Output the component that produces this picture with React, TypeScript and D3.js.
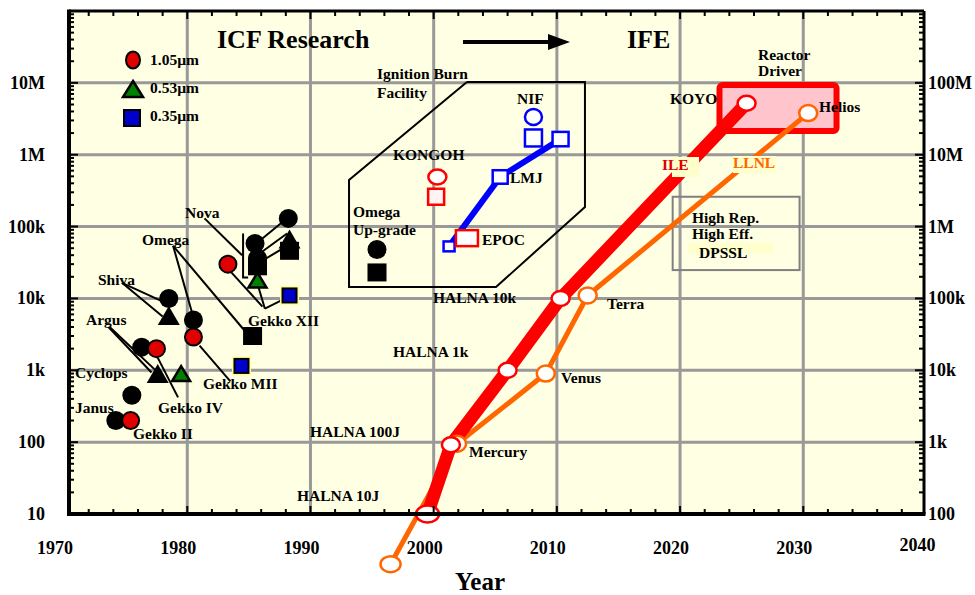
import React from 'react'
import * as d3 from 'd3'

/* page is 975 x 595, plot frame in pixels */
const width = 975
const height = 595
const frame = { left: 69, right: 924, top: 11, bottom: 514 }
const serif = '"Liberation Serif", "Times New Roman", serif'

/* axes */
const gridYears = [1980, 1990, 2000, 2010, 2020, 2030]
const yearLabels = [1970, 1980, 1990, 2000, 2010, 2020, 2030, 2040]
const decades = [10, 100, 1e3, 1e4, 1e5, 1e6, 1e7]
const leftLabels = ['10', '100', '1k', '10k', '100k', '1M', '10M']
const rightLabels = ['100', '1k', '10k', '100k', '1M', '10M', '100M']

/* ICF lasers: [year, output energy J] */
const blackCircles = [
    [1974.2, 200], [1975.5, 450], [1976.3, 2100], [1978.5, 10000], [1980.5, 5000],
    [1985.5, 58000], [1985.7, 36000], [1988.2, 130000], [1995.4, 48000],
]
const redCircles = [[1975.4, 200], [1977.5, 2000], [1980.5, 2900], [1983.3, 30000]]
const blackTriangles = [[1977.6, 900], [1978.5, 5800], [1988.3, 67000]]
const greenTriangles = [[1979.5, 900], [1985.7, 18000]]
const blackSquares = [[1985.3, 3000], [1985.7, 28000], [1988.3, 46000], [1995.4, 23000]]
const blueSquares = [[1984.4, 1150], [1988.3, 11000]]

/* ignition facilities */
const kongohCircle = [2000.3, 490000]
const kongohSquare = [2000.2, 260000]
const epoc = [2002.7, 69000]
const nifCircle = [2008.1, 3.35e6]
const nifSquare = [2008.1, 1.71e6]
const blueLine = [[2001.25, 53000], [2005.4, 490000], [2010.3, 1.65e6]]

/* IFE roadmaps */
const ileYears = [1999.5, 2001.4, 2006.0, 2010.3, 2025.4]
const ileEnergy = [10, 92, 1000, 10000, 5.2e6]
const llnlYears = [1996.5, 2001.9, 2009.1, 2012.5, 2030.4]
const llnlEnergy = [2, 95, 900, 11000, 3.8e6]

/* regions in data space */
const ignitionRegion = [
    [2002.7, 1.03e7], [2012.28, 1.03e7], [2012.28, 187000],
    [2005.06, 14400], [1993.13, 14400], [1993.13, 445000],
]
const reactorBox = [[2023.2, 9.3e6], [2032.7, 2.14e6]]
const dpsslBox = [[2019.4, 260000], [2029.7, 24800]]

/* leader lines from names to points */
const leaders = [
    [[1973.6, 4000], [1977.1, 930]],
    [[1973.7, 4000], [1977.8, 870]],
    [[1974.7, 16500], [1977.8, 9400]],
    [[1974.7, 16500], [1978.0, 5600]],
    [[1978.85, 54000], [1980.4, 6200]],
    [[1978.85, 54000], [1984.85, 3250]],
    [[1977.6, 1500], [1979.25, 420]],
    [[1981.0, 2200], [1983.5, 700]],
    [[1983.3, 26000], [1986.1, 7700]],
    [[1985.8, 14000], [1986.3, 7200]],
    [[1986.3, 7200], [1987.8, 9700]],
    [[1981.4, 130000], [1984.45, 40000]],
    [[1988.2, 135000], [1985.9, 64000]],
    [[1988.1, 80000], [1985.9, 42500]],
    [[1987.8, 50000], [1986.15, 34000]],
]
const novaBracket = [[1984.53, 80000], [1984.53, 19600], [1984.94, 19600]]

/* names (pixel anchors, baseline) */
const names = [
    { t: 'Nova', x: 185, y: 218 },
    { t: 'Omega', x: 142, y: 245 },
    { t: 'Shiva', x: 98, y: 285 },
    { t: 'Argus', x: 86, y: 325 },
    { t: 'Cyclops', x: 75, y: 378 },
    { t: 'Janus', x: 75, y: 413 },
    { t: 'Gekko II', x: 133, y: 439 },
    { t: 'Gekko IV', x: 158, y: 413 },
    { t: 'Gekko MII', x: 203, y: 389 },
    { t: 'Gekko XII', x: 248, y: 326 },
    { t: 'Ignition Burn', x: 377, y: 79 },
    { t: 'Facility', x: 377, y: 98 },
    { t: 'KONGOH', x: 393, y: 160 },
    { t: 'Omega', x: 353, y: 217 },
    { t: 'Up-grade', x: 353, y: 235 },
    { t: 'EPOC', x: 482, y: 245 },
    { t: 'LMJ', x: 510, y: 183 },
    { t: 'NIF', x: 517, y: 104 },
    { t: 'HALNA 10k', x: 433, y: 303 },
    { t: 'HALNA 1k', x: 393, y: 357 },
    { t: 'HALNA 100J', x: 310, y: 437 },
    { t: 'HALNA 10J', x: 297, y: 501 },
    { t: 'Mercury', x: 469, y: 457 },
    { t: 'Venus', x: 561, y: 383 },
    { t: 'Terra', x: 607, y: 309 },
    { t: 'KOYO', x: 670, y: 104 },
    { t: 'Helios', x: 819, y: 112 },
    { t: 'Reactor', x: 758, y: 60 },
    { t: 'Driver', x: 758, y: 76 },
    { t: 'High Rep.', x: 692, y: 223 },
    { t: 'High Eff.', x: 692, y: 239 },
    { t: 'DPSSL', x: 699, y: 258 },
]

const legendItems = ['1.05µm', '0.53µm', '0.35µm']

const x = d3.scaleLinear().domain([1970.4, 2039.8]).range([frame.left, frame.right])
const y = d3.scaleLog().domain([10, 1e8]).range([frame.bottom, frame.top])
const line = d3.line<number[]>().x((d) => x(d[0])).y((d) => y(d[1]))

const tri = (w: number, h: number) => `M0,${-h / 2}L${w / 2},${h / 2}L${-w / 2},${h / 2}Z`

export default function App() {
    const ile = d3.zip(ileYears, ileEnergy)
    const llnl = d3.zip(llnlYears, llnlEnergy)
    const minorY = decades.flatMap((d) => d3.range(2, 10).map((m) => d * m))
    const minorX = d3.range(1972, 2040, 2)

    return (
        <svg
            width={width}
            height={height}
            style={{ position: 'absolute', left: 0, top: 0, background: '#fff' }}
            fontFamily={serif}
            fontWeight="bold"
        >
            {/* plot background */}
            <rect
                x={frame.left}
                y={frame.top}
                width={frame.right - frame.left}
                height={frame.bottom - frame.top}
                fill="#FFFFE3"
            />
            {/* grid */}
            {gridYears.map((d) => (
                <line key={d} x1={x(d)} x2={x(d)} y1={frame.top} y2={frame.bottom} stroke="#999" strokeWidth={3} />
            ))}
            {decades.slice(1).map((d) => (
                <line key={d} x1={frame.left} x2={frame.right} y1={y(d)} y2={y(d)} stroke="#999" strokeWidth={3} />
            ))}

            {/* ignition burn facility region */}
            <path
                d={line(ignitionRegion.concat([ignitionRegion[0]]))}
                fill="none"
                stroke="#000"
                strokeWidth={2}
            />
            {/* high rep DPSSL box */}
            <rect
                x={x(dpsslBox[0][0])}
                y={y(dpsslBox[0][1])}
                width={x(dpsslBox[1][0]) - x(dpsslBox[0][0])}
                height={y(dpsslBox[1][1]) - y(dpsslBox[0][1])}
                fill="none"
                stroke="#808080"
                strokeWidth={2}
            />
            {/* reactor driver box */}
            <rect
                x={x(reactorBox[0][0])}
                y={y(reactorBox[0][1])}
                width={x(reactorBox[1][0]) - x(reactorBox[0][0])}
                height={y(reactorBox[1][1]) - y(reactorBox[0][1])}
                rx={3}
                fill="#FFC4CC"
                stroke="#FF0000"
                strokeWidth={6}
            />

            {/* leader lines */}
            {leaders.map((d, i) => (
                <path key={i} d={line(d)} stroke="#000" strokeWidth={2} fill="none" />
            ))}
            <path d={line(novaBracket)} stroke="#000" strokeWidth={2} fill="none" />

            {/* ICF lasers */}
            {blackCircles.map((d, i) => (
                <circle key={i} cx={x(d[0])} cy={y(d[1])} r={9.5} fill="#000" />
            ))}
            {blackSquares.map((d, i) => (
                <rect key={i} x={x(d[0]) - 9.5} y={y(d[1]) - 9} width={19} height={18} fill="#000" />
            ))}
            {blackTriangles.map((d, i) => (
                <path key={i} d={tri(22, 19)} transform={`translate(${x(d[0])},${y(d[1])})`} fill="#000" />
            ))}
            {redCircles.map((d, i) => (
                <circle key={i} cx={x(d[0])} cy={y(d[1])} r={8.5} fill="#E00000" stroke="#000" strokeWidth={2} />
            ))}
            {greenTriangles.map((d, i) => (
                <path
                    key={i}
                    d={tri(18, 15)}
                    transform={`translate(${x(d[0])},${y(d[1])})`}
                    fill="#008000"
                    stroke="#000"
                    strokeWidth={2.5}
                />
            ))}
            {blueSquares.map((d, i) => (
                <g key={i} transform={`translate(${x(d[0])},${y(d[1])})`}>
                    <rect x={-9.5} y={-9.5} width={19} height={19} fill="#FFFF99" />
                    <rect x={-7} y={-7} width={14} height={14} fill="#0000CC" stroke="#000" strokeWidth={2} />
                </g>
            ))}

            {/* ignition facilities */}
            <path d={line(blueLine)} stroke="#0000FF" strokeWidth={6} fill="none" />
            {blueLine.map((d, i) => {
                const s = [11, 15, 16][i]
                return (
                    <rect
                        key={i}
                        x={x(d[0]) - s / 2}
                        y={y(d[1]) - (s * 0.9) / 2}
                        width={s}
                        height={s * 0.9}
                        fill="#fff"
                        stroke="#0000FF"
                        strokeWidth={2.5}
                    />
                )
            })}
            <rect x={x(nifSquare[0]) - 8.5} y={y(nifSquare[1]) - 8.5} width={17} height={17} fill="#fff" stroke="#0000FF" strokeWidth={2.5} />
            <ellipse cx={x(nifCircle[0])} cy={y(nifCircle[1])} rx={8.5} ry={8} fill="#fff" stroke="#0000FF" strokeWidth={2.5} />
            <ellipse cx={x(kongohCircle[0])} cy={y(kongohCircle[1])} rx={9} ry={7.5} fill="#fff" stroke="#FF0000" strokeWidth={2.5} />
            <rect x={x(kongohSquare[0]) - 8} y={y(kongohSquare[1]) - 8} width={16} height={16} fill="#FFF4F4" stroke="#FF0000" strokeWidth={2.5} />
            <rect x={x(epoc[0]) - 11} y={y(epoc[1]) - 8} width={22} height={16} fill="#fff" stroke="#FF0000" strokeWidth={2.5} />

            {/* IFE roadmaps */}
            <path d={line(llnl)} stroke="#FF6600" strokeWidth={5} fill="none" strokeLinejoin="round" />
            <path d={line(ile)} stroke="#FF0000" strokeWidth={13} fill="none" strokeLinejoin="round" />
            {llnl.map((d, i) => (
                <ellipse key={i} cx={x(d[0])} cy={y(d[1])} rx={i === 0 ? 10 : 9} ry={8} fill="#fff" stroke="#FF6600" strokeWidth={2.5} />
            ))}
            {ile.map((d, i) => (
                <ellipse key={i} cx={x(d[0])} cy={y(d[1])} rx={i === 0 ? 11.5 : 9} ry={i === 0 ? 8.5 : 7.5} fill="#fff" stroke="#FF0000" strokeWidth={2.5} />
            ))}

            {/* label backgrounds over the roadmap lines */}
            <rect x={672} y={157} width={27} height={20} fill="#FFFFCC" />
            <rect x={733} y={156} width={43} height={17} fill="#FFFFCC" />
            <rect x={688} y={243} width={85} height={10} fill="#FFFFCC" />

            {/* texts in the plot */}
            {names.map((d, i) => (
                <text key={i} x={d.x} y={d.y} fontSize={15.5} fill="#000">
                    {d.t}
                </text>
            ))}
            <text x={662} y={170} fontSize={15.5} fill="#E00000">ILE</text>
            <text x={733} y={168} fontSize={15.5} fill="#FF6600">LLNL</text>

            {/* legend */}
            <ellipse cx={133} cy={60} rx={7} ry={8.5} fill="#E00000" stroke="#000" strokeWidth={2} />
            <path d={tri(20, 16)} transform="translate(133,89)" fill="#008000" stroke="#000" strokeWidth={2.5} />
            <rect x={124} y={110} width={16} height={16} fill="#0000CC" stroke="#000" strokeWidth={2} />
            {legendItems.map((d, i) => (
                <text key={d} x={150} y={65 + i * 28} fontSize={15.5}>
                    {d}
                </text>
            ))}

            {/* headline */}
            <text x={217} y={48} fontSize={26}>ICF Research</text>
            <text x={627} y={48} fontSize={26}>IFE</text>
            <line x1={463} x2={552} y1={42} y2={42} stroke="#000" strokeWidth={4} />
            <path d="M548,34L570,42L548,50Z" fill="#000" />

            {/* axis frame and ticks */}
            {minorX.map((d) => {
                const len = d % 10 === 0 ? 8 : 5
                return (
                    <g key={d}>
                        <line x1={x(d)} x2={x(d)} y1={frame.bottom} y2={frame.bottom - len} stroke="#000" strokeWidth={2} />
                        <line x1={x(d)} x2={x(d)} y1={frame.top} y2={frame.top + len} stroke="#000" strokeWidth={2} />
                    </g>
                )
            })}
            {minorY.concat(decades.slice(1)).filter((d) => d < 1e8).map((d, i) => {
                const len = decades.includes(d) ? 9 : 5
                return (
                    <g key={i}>
                        <line x1={frame.left} x2={frame.left + len} y1={y(d)} y2={y(d)} stroke="#000" strokeWidth={2} />
                        <line x1={frame.right} x2={frame.right - len} y1={y(d)} y2={y(d)} stroke="#000" strokeWidth={2} />
                    </g>
                )
            })}
            <line x1={frame.left} x2={frame.right} y1={frame.top} y2={frame.top} stroke="#000" strokeWidth={3} />
            <line x1={frame.right} x2={frame.right} y1={frame.top} y2={frame.bottom} stroke="#000" strokeWidth={3} />
            <line x1={frame.left} x2={frame.right + 1.5} y1={frame.bottom} y2={frame.bottom} stroke="#000" strokeWidth={4} />
            <line x1={frame.left} x2={frame.left} y1={frame.top - 1.5} y2={frame.bottom + 2} stroke="#000" strokeWidth={4} />

            {/* tick labels: left in J, right ten times larger */}
            {decades.map((d, i) => (
                <text key={d} x={45} y={y(d) + 6} fontSize={18} textAnchor="end">
                    {leftLabels[i]}
                </text>
            ))}
            {decades.map((d, i) => (
                <text key={d} x={928} y={y(d) + 6} fontSize={18}>
                    {rightLabels[i]}
                </text>
            ))}
            {yearLabels.map((d) => (
                <text key={d} x={x(d) - 9} y={d === 2040 ? 551 : 554} fontSize={18} textAnchor="middle">
                    {d}
                </text>
            ))}
            <text x={480} y={590} fontSize={25} textAnchor="middle">Year</text>
        </svg>
    )
}
